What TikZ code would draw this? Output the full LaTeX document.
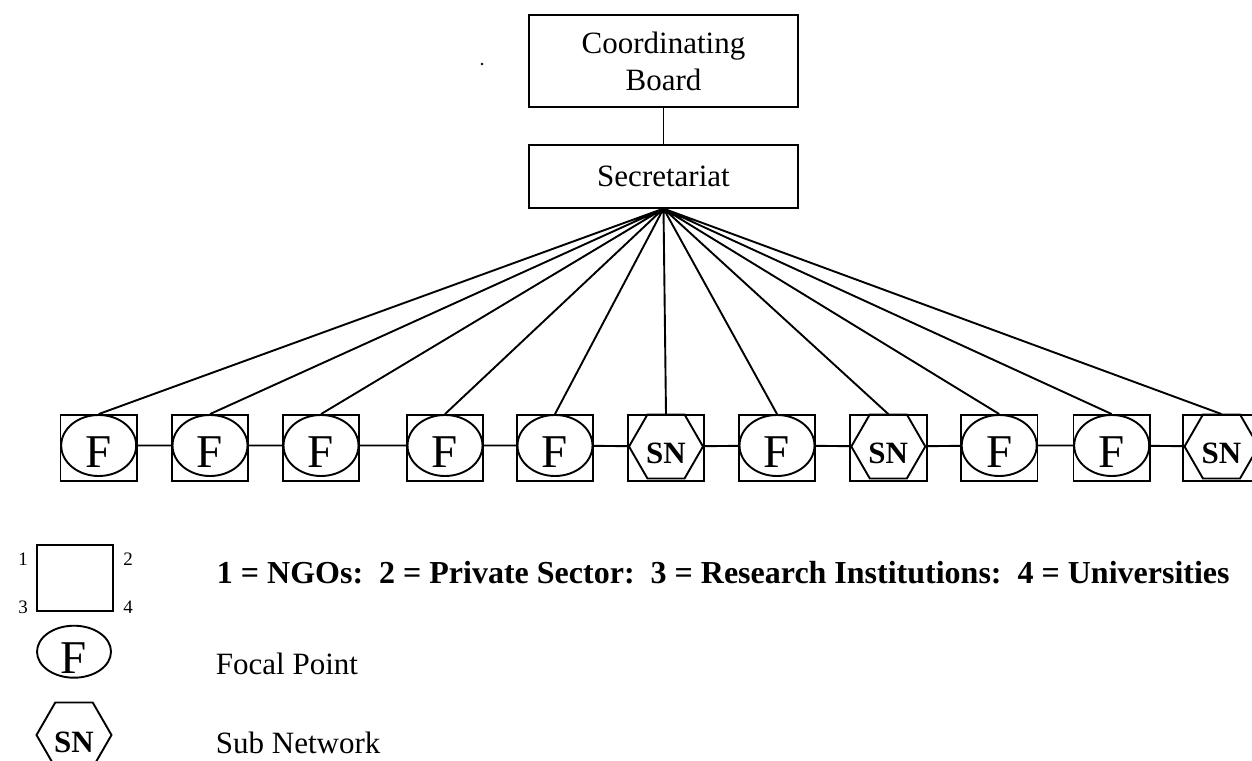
\documentclass[tikz,border=0pt]{standalone}
\usepackage{fontspec}
\setmainfont{Liberation Serif}
\usetikzlibrary{shapes.geometric}

\begin{document}
\begin{tikzpicture}[x=1pt, y=-1pt, line width=1.9pt,
    every node/.style={font=\fontsize{31}{37}\selectfont},
    frame/.style={draw, rectangle, inner sep=0pt, minimum width=76.5pt, minimum height=66pt},
    focal/.style={draw, ellipse, inner sep=0pt, minimum width=75pt, minimum height=61pt,
        label={[font=\fontsize{47}{47}\selectfont, yshift=-6.5pt]center:#1}},
    subnet/.style={draw, regular polygon, regular polygon sides=6, inner sep=0pt, minimum size=74pt,
        label={[font=\fontsize{31}{31}\selectfont\bfseries, yshift=-7pt]center:#1}},
    num/.style={font=\fontsize{19}{19}\selectfont},
    keyline/.style={anchor=base west, inner sep=0pt}]
                \useasboundingbox (0,0) rectangle (1252,760);
                \clip (0,0) rectangle (1252,760);

                % board and secretariat
                \node[draw, minimum width=269pt, minimum height=92pt, align=center] (board) at (663.5,61) {Coordinating\\Board};
                \node[draw, minimum width=269pt, minimum height=62.7pt] (secr) at (663.5,176.3) {Secretariat};
                \draw (board) -- (secr);
                \fill (482,64) circle (1.3pt);

                % the row of members
                \node[frame] (b1) at (98.7,448) {};   \node[focal=F] (p1) at ([yshift=2.5pt]b1) {};
                \node[frame] (b2) at (210,448) {};    \node[focal=F] (p2) at ([yshift=2.5pt]b2) {};
                \node[frame] (b3) at (321,448) {};    \node[focal=F] (p3) at ([yshift=2.5pt]b3) {};
                \node[frame] (b4) at (445,448) {};    \node[focal=F] (p4) at ([yshift=2.5pt]b4) {};
                \node[frame] (b5) at (555,448) {};    \node[focal=F] (p5) at ([yshift=2.5pt]b5) {};
                \node[frame] (b6) at (666,448) {};    \node[subnet=SN] (p6) at ([yshift=1.5pt]b6) {};
                \node[frame] (b7) at (777,448) {};    \node[focal=F] (p7) at ([yshift=2.5pt]b7) {};
                \node[frame] (b8) at (888.3,448) {};  \node[subnet=SN] (p8) at ([yshift=1.5pt]b8) {};
                \node[frame] (b9) at (999.2,448) {};  \node[focal=F] (p9) at ([yshift=2.5pt]b9) {};
                \node[frame] (b10) at (1111.7,448) {}; \node[focal=F] (p10) at ([yshift=2.5pt]b10) {};
                \node[frame] (b11) at (1221.5,448) {}; \node[subnet=SN] (p11) at ([yshift=1.5pt]b11) {};

                % lines from the secretariat
                \draw (secr.south) -- (b1.north) (secr.south) -- (b2.north) (secr.south) -- (b3.north)
                      (secr.south) -- (b4.north) (secr.south) -- (b5.north) (secr.south) -- (b6.north)
                      (secr.south) -- (b7.north) (secr.south) -- (b8.north) (secr.south) -- (b9.north)
                      (secr.south) -- (b10.north) (secr.south) -- (b11.north);

                % links along the row
                \draw (p1) -- (p2) (p2) -- (p3) (p3) -- (p4) (p4) -- (p5) (p5) -- (p6)
                      (p6) -- (p7) (p7) -- (p8) (p8) -- (p9) (p9) -- (p10) (p10) -- (p11);

                % key
                \node[frame, minimum width=76.6pt] (key) at (75,578) {};
                \node[num] (k1) at (23,559) {1};
                \node[num] (k2) at (128,559) {2};
                \node[num] (k3) at (23,607) {3};
                \node[num] (k4) at (128,607) {4};
                \node[keyline, font=\fontsize{32}{37}\selectfont\bfseries] (keytext) at (216,583)
                    {1 = NGOs:\ \ 2 = Private Sector:\ \ 3 = Research Institutions:\ \ 4 = Universities};
                \node[focal=F, minimum width=74pt, minimum height=52pt] (keyf) at (74,651.7) {};
                \node[keyline] (keyftext) at (215,674) {Focal Point};
                \node[subnet=SN, minimum size=75pt] (keysn) at (74,735) {};
                \node[keyline] (keysntext) at (215,753) {Sub Network};

            \end{tikzpicture}
\end{document}
